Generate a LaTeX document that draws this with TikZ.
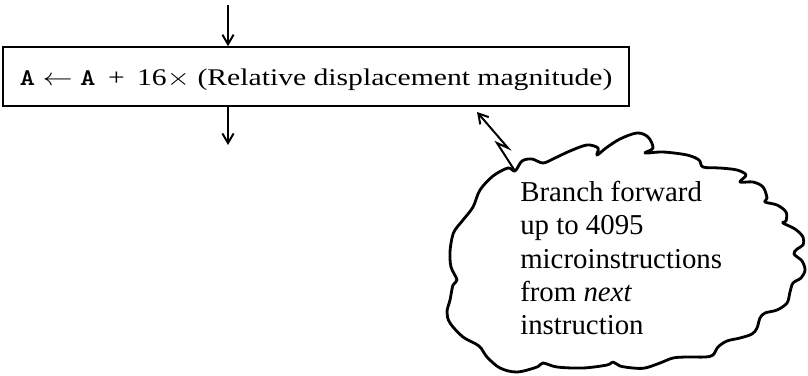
\documentclass[tikz,border=0pt]{standalone}
\usepackage{fontspec}
\usepackage{graphicx}
\setmainfont{Liberation Serif}
\usepackage{tikz}
\usetikzlibrary{positioning, arrows.meta, calc}

\newcommand{\widetext}[1]{\scalebox{1.24}[1]{#1}}

\begin{document}
\begin{tikzpicture}[
    x=0.025cm, y=-0.025cm,
    opbox/.style={rectangle, draw, line width=1.1pt, minimum width=15.65cm, minimum height=1.475cm, inner sep=0pt, text height=1.35em, text depth=0pt, font=\fontsize{17}{20}\selectfont},
    notetext/.style={align=left, inner sep=0pt, font=\fontsize{20.5}{23.5}\selectfont},
    cloudline/.style={line width=2pt, line join=round},
    flow/.style={-{Straight Barb[length=2.4mm, width=2.8mm]}, line width=1.4pt},
    zap/.style={-{Straight Barb[length=2.4mm, width=2.8mm]}, line width=1.4pt, line join=miter},
]
\useasboundingbox (0,0) rectangle (808,375);

% Operation box
\node[opbox] (op) at (316,76.5) {\widetext{\texttt{\bfseries A} $\leftarrow$ \texttt{\bfseries A} \,+\, 16$\times$ (Relative displacement magnitude)}};

% Flow in and out
\coordinate (in) at (228,5);
\coordinate (out) at (228,145);
\draw[flow] (in) -- (in |- op.north);
\draw[flow] (in |- op.south) -- (out);

% Cloud comment
\draw[cloudline] plot[smooth cycle, tension=0.55] coordinates {
    (515,171) (522,161) (532,159) (543,163) (555,158) (570,151) (587,145) (598,148)
    (597,155) (606,148) (620,139) (637,133) (648,137) (653,148) (645,153) (663,152)
    (687,155) (699,160) (703,167) (720,168) (737,170) (746,175) (740,182) (753,182)
    (763,187) (767,198) (765,202) (777,205) (786,212) (786,221) (783,223) (795,229)
    (803,237) (803,245) (797,249) (794,254) (802,261) (805,270) (801,278) (793,283)
    (790,292) (787,303) (777,310) (765,313) (760,318) (757,328) (752,334) (740,338)
    (727,341) (718,347) (713,355) (705,357) (687,357) (673,358) (660,363) (645,368)
    (633,368) (620,366) (613,362) (607,365) (583,368) (557,367) (543,363) (537,367)
    (517,372) (500,368) (487,357) (479,346) (463,337) (450,323) (447,312) (450,300)
    (453,285) (457,280) (451,267) (450,252) (452,238) (455,230) (463,220) (473,207)
    (480,190) (493,176) (508,168)};
\coordinate (tip) at (515,171);
\node[notetext, anchor=west] (note) at (520,258) {Branch forward\\up to 4095\\microinstructions\\from \textit{next}\\instruction};

% Pointer from cloud to box
\coordinate (bend1) at (497,143);
\coordinate (bend2) at (508,148);
\coordinate (hit) at (477,112);
\draw[zap] (tip) -- (bend1) -- (bend2) -- (hit);

\end{tikzpicture}
\end{document}
